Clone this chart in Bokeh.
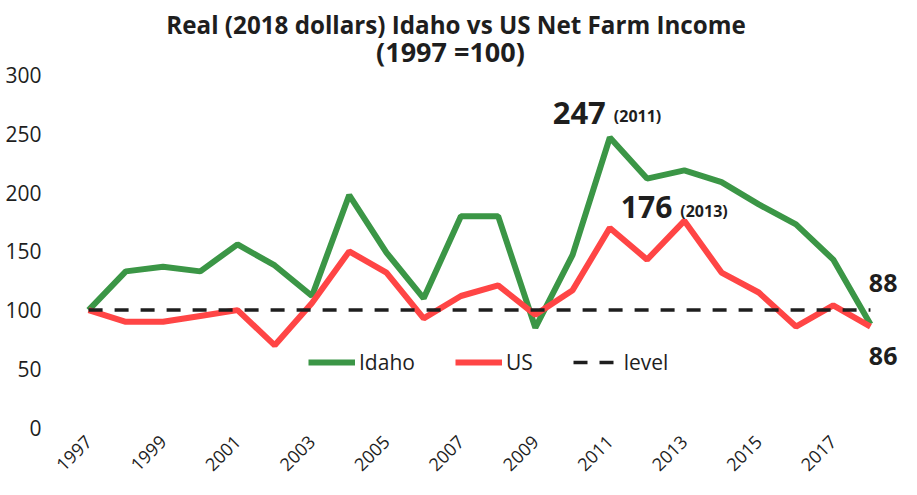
import math
from bokeh.plotting import figure
from bokeh.models import Range1d, FixedTicker, Label
from bokeh.embed import file_html
from bokeh.resources import INLINE

# ---- data ----
years = list(range(1997, 2019))
idaho = [100, 133, 137, 133, 156, 138, 112, 198, 149, 110, 180, 180, 85, 147,
         247, 212, 219, 209, 190, 173, 143, 88]
us = [100, 90, 90, 95, 100, 70, 106, 150, 132, 93, 112, 121, 96, 117,
      170, 143, 176, 132, 115, 86, 104, 86]
level = [100] * len(years)

y_ticks = [0, 50, 100, 150, 200, 250, 300]
x_ticks = list(range(1997, 2018, 2))

title1 = "Real (2018 dollars) Idaho vs US Net Farm Income"
title2 = "(1997 =100)"

# peak annotations
idaho_peak_year, idaho_peak = 2011, 247
us_peak_year, us_peak = 2013, 176
idaho_last, us_last = idaho[-1], us[-1]

FONT = "Open Sans"
TXT = "#1e1e1e"
GREEN = "#3b9646"
RED = "#ff4545"

p = figure(width=901, height=479, output_backend="svg", toolbar_location=None,
           title=None,
           x_range=Range1d(1996.89, 2018.78), y_range=Range1d(-0.85, 363.7),
           min_border_left=84, min_border_right=2, min_border_top=0,
           min_border_bottom=50)
p.outline_line_color = None
p.grid.visible = False
p.background_fill_color = "white"
p.border_fill_color = "white"

p.line(years, idaho, line_color=GREEN, line_width=6, legend_label="Idaho")
p.line(years, us, line_color=RED, line_width=6, legend_label="US")
p.line(years, level, line_color="#1e1e1e", line_width=3.5, line_dash="14 12",
       legend_label="level")

# axes
p.xaxis.ticker = FixedTicker(ticks=x_ticks)
p.xaxis.major_label_orientation = math.pi / 4
p.xaxis.major_label_text_font = FONT
p.xaxis.major_label_text_font_size = "18px"
p.xaxis.major_label_text_color = TXT
p.xaxis.major_label_standoff = 4
p.yaxis.ticker = FixedTicker(ticks=y_ticks)
p.yaxis.major_label_text_font = FONT
p.yaxis.major_label_text_font_size = "21px"
p.yaxis.major_label_text_color = TXT
p.yaxis.major_label_standoff = 37
for ax in (p.xaxis, p.yaxis):
    ax.axis_line_color = None
    ax.major_tick_line_color = None
    ax.minor_tick_line_color = None

# legend
lg = p.legend[0]
lg.orientation = "horizontal"
lg.location = (224, 52)
lg.border_line_color = None
lg.background_fill_alpha = 0
lg.padding = 0
lg.margin = 0
lg.spacing = 40
lg.glyph_width = 47
lg.glyph_height = 20
lg.label_standoff = 4
lg.label_text_font = FONT
lg.label_text_font_size = "21px"
lg.label_text_color = TXT

# titles
p.add_layout(Label(x=2006.87, y=343.3, text=title1, text_align="center",
                   text_baseline="middle", text_font=FONT,
                   text_font_size="24.2px", text_font_style="bold",
                   text_color=TXT))
p.add_layout(Label(x=2006.72, y=320.0, text=title2, text_align="center",
                   text_baseline="middle", text_font=FONT,
                   text_font_size="27px", text_font_style="bold",
                   text_color=TXT))

# annotations
def big(x, y, text, xo, yo, size, align="right"):
    p.add_layout(Label(x=x, y=y, text=text, x_offset=xo, y_offset=yo,
                       text_align=align, text_baseline="middle",
                       text_font=FONT, text_font_size=size,
                       text_font_style="bold", text_color=TXT))

big(idaho_peak_year, idaho_peak, str(idaho_peak), -4, 25, "31px")
big(idaho_peak_year, idaho_peak, "(%d)" % idaho_peak_year, 4, 22, "16px", "left")
big(us_peak_year, us_peak, str(us_peak), -12, 14, "30px")
big(us_peak_year, us_peak, "(%d)" % us_peak_year, -4, 10, "16px", "left")
big(years[-1], idaho_last, str(idaho_last), 27, 41, "25px", "right")
big(years[-1], us_last, str(us_last), 27, -29, "25px", "right")

open("out.html", "w").write(file_html(p, INLINE))
